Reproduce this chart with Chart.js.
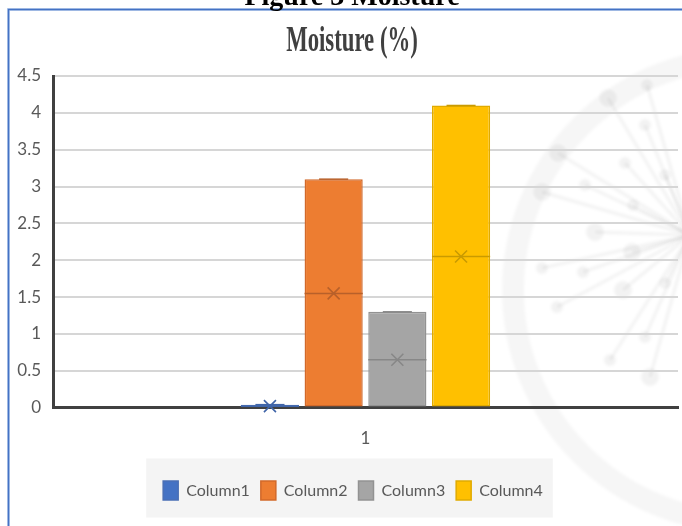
<!DOCTYPE html>
<html>
<head>
<meta charset="utf-8">
<title>Moisture (%)</title>
<script src="https://cdn.jsdelivr.net/npm/chart.js@4"></script>
<style>
  html, body { margin: 0; padding: 0; background: #ffffff; }
  #wrap { position: relative; width: 682px; height: 526px; }
</style>
</head>
<body>
<div id="wrap"><canvas id="chart" width="682" height="526"></canvas></div>
<script>
// Moisture (%) box summaries, one box per column
const categories = ['1'];
const seriesNames = ['Column1', 'Column2', 'Column3', 'Column4'];
const minValues = [0, 0, 0, 0];
const maxValues = [0.04, 3.1, 1.3, 4.1];
const medianValues = [0.02, 1.55, 0.65, 2.05];
const meanValues = [0.02, 1.55, 0.65, 2.05];
const yTickMin = 0;
const yTickMax = 4.5;
const yTickStep = 0.5;
const chartTitle = 'Moisture (%)';
const figureCaption = 'Figure 3 Moisture';

// styling
const fills = ['#4472C4', '#ED7D31', '#A5A5A5', '#FFC000'];
const edges = ['#4a6fb5', '#d2692a', '#929292', '#e0aa00'];
const markColors = ['#3f64a8', '#b8602a', '#878787', '#c99a00'];
const legendShift = 14;

const datasets = seriesNames.map((name, i) => ({
  label: name,
  data: [[minValues[i], maxValues[i]]],
  backgroundColor: fills[i],
  borderColor: edges[i],
  borderWidth: 1.5,
  borderSkipped: false
}));

// page frame, caption, watermark and title
const decor = {
  id: 'decor',
  afterUpdate(chart) {
    // nudge the legend row to the right of the page centre
    const lg = chart.legend;
    if (!lg) return;
    lg.left += legendShift;
    lg.right += legendShift;
    (lg.legendHitBoxes || []).forEach(b => { b.left += legendShift; });
  },
  beforeDraw(chart) {
    const ctx = chart.ctx;
    ctx.save();
    // faint round emblem behind the plot
    ctx.filter = 'blur(1.5px)';
    ctx.strokeStyle = 'rgba(0,0,0,0.035)';
    ctx.lineWidth = 22;
    ctx.beginPath();
    ctx.arc(745, 290, 232, 0, Math.PI * 2);
    ctx.stroke();
    const hub = [690, 235];
    const nodes = [[608, 98], [647, 85], [645, 125], [558, 153], [625, 163], [665, 175],
      [542, 192], [585, 185], [633, 205], [595, 232], [542, 268], [583, 272],
      [632, 252], [665, 283], [557, 307], [623, 290], [610, 360], [645, 337], [650, 377]];
    ctx.strokeStyle = 'rgba(0,0,0,0.05)';
    ctx.lineWidth = 3;
    nodes.forEach(n => {
      ctx.beginPath();
      ctx.moveTo(hub[0], hub[1]);
      ctx.lineTo(n[0], n[1]);
      ctx.stroke();
    });
    ctx.fillStyle = 'rgba(0,0,0,0.05)';
    nodes.forEach((n, k) => {
      ctx.beginPath();
      ctx.arc(n[0], n[1], k % 3 === 0 ? 9 : 6, 0, Math.PI * 2);
      ctx.fill();
    });
    ctx.filter = 'none';
    // legend panel
    const boxes = chart.legend && chart.legend.legendHitBoxes;
    if (boxes && boxes.length) {
      const minX = Math.min(...boxes.map(b => b.left));
      const maxX = Math.max(...boxes.map(b => b.left + b.width));
      const cy = boxes[0].top + boxes[0].height / 2;
      ctx.fillStyle = '#f4f4f4';
      ctx.fillRect(minX - 17, cy - 32, maxX - minX + 27, 59);
    }
    // frame
    ctx.strokeStyle = '#bcd0ee';
    ctx.lineWidth = 3;
    ctx.beginPath();
    ctx.moveTo(8.5, 526); ctx.lineTo(8.5, 9.5); ctx.lineTo(682, 9.5);
    ctx.stroke();
    ctx.strokeStyle = '#4472C4';
    ctx.lineWidth = 1.5;
    ctx.stroke();
    // caption above the frame
    ctx.fillStyle = '#000000';
    ctx.font = 'bold 28px "Liberation Serif"';
    ctx.textAlign = 'center';
    ctx.textBaseline = 'alphabetic';
    ctx.fillText(figureCaption, 352, 5);
    // chart title, condensed serif
    ctx.translate(352, 51);
    ctx.scale(0.65, 1);
    ctx.fillStyle = '#404040';
    ctx.font = 'bold 35px "Liberation Serif"';
    ctx.fillText(chartTitle, 0, 0);
    ctx.restore();
  }
};

// median line, whisker cap and mean marker on each box
const boxMarks = {
  id: 'boxMarks',
  afterDatasetsDraw(chart) {
    const ctx = chart.ctx;
    const y = chart.scales.y;
    ctx.save();
    chart.data.datasets.forEach((ds, i) => {
      const meta = chart.getDatasetMeta(i);
      if (meta.hidden) return;
      const bar = meta.data[0];
      const left = bar.x - bar.width / 2;
      const right = bar.x + bar.width / 2;
      ctx.strokeStyle = markColors[i];
      ctx.lineWidth = 1.5;
      // whisker cap at the maximum
      const yMax = y.getPixelForValue(maxValues[i]);
      ctx.beginPath();
      ctx.moveTo(bar.x - bar.width * 0.25, yMax);
      ctx.lineTo(bar.x + bar.width * 0.25, yMax);
      ctx.stroke();
      // median
      const yMed = y.getPixelForValue(medianValues[i]);
      ctx.beginPath();
      ctx.moveTo(left, yMed);
      ctx.lineTo(right, yMed);
      ctx.stroke();
      // mean cross
      const yMean = y.getPixelForValue(meanValues[i]);
      const r = 6;
      ctx.lineWidth = 1.6;
      ctx.beginPath();
      ctx.moveTo(bar.x - r, yMean - r); ctx.lineTo(bar.x + r, yMean + r);
      ctx.moveTo(bar.x + r, yMean - r); ctx.lineTo(bar.x - r, yMean + r);
      ctx.stroke();
    });
    ctx.restore();
  }
};

new Chart(document.getElementById('chart'), {
  type: 'bar',
  data: { labels: categories, datasets },
  plugins: [decor, boxMarks],
  options: {
    responsive: false,
    animation: false,
    devicePixelRatio: 1,
    categoryPercentage: 0.4077,
    barPercentage: 0.913,
    layout: { padding: { top: 76, right: 4, bottom: 16, left: 0 } },
    scales: {
      x: {
        grid: { display: false, drawTicks: false },
        border: { color: '#404040', width: 3 },
        ticks: { color: '#595959', font: { family: 'Lato', size: 17 }, padding: 21 }
      },
      y: {
        min: yTickMin,
        max: yTickMax,
        ticks: {
          stepSize: yTickStep,
          color: '#595959',
          font: { family: 'Lato', size: 17 },
          padding: 12,
          callback: v => String(Number(v))
        },
        grid: { color: '#d6d6d6', lineWidth: 2, drawTicks: false },
        border: { color: '#404040', width: 3 },
        afterFit(scale) { scale.width = 53; }
      }
    },
    plugins: {
      title: { display: false },
      tooltip: { enabled: false },
      legend: {
        position: 'bottom',
        labels: {
          color: '#595959',
          font: { family: 'Lato', size: 16 },
          boxWidth: 15,
          boxHeight: 19,
          padding: 11
        }
      }
    }
  }
});
</script>
</body>
</html>
